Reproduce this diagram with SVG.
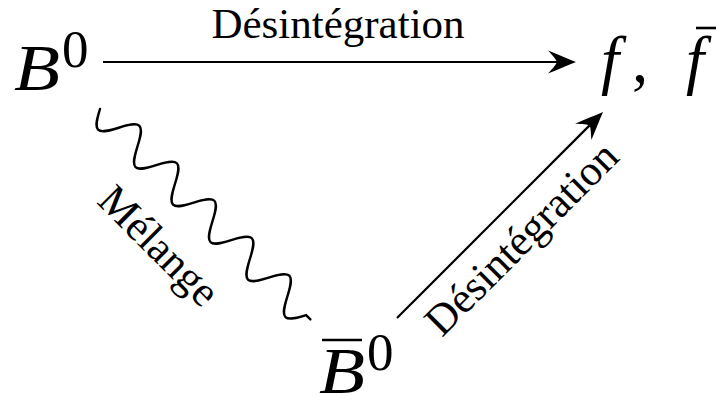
<svg xmlns="http://www.w3.org/2000/svg" width="717" height="401" viewBox="0 0 717 401">
  <style>
    .math { font-family: "Liberation Serif", "Times New Roman", serif; font-style: italic; font-size: 65px; fill: #000; }
    .sup { font-family: "Liberation Serif", "Times New Roman", serif; font-size: 53px; fill: #000; }
    .punct { font-family: "Liberation Serif", "Times New Roman", serif; font-size: 65px; fill: #000; }
    .lbl { font-family: "Liberation Serif", "Times New Roman", serif; font-size: 43px; fill: #000; text-anchor: middle; }
    .edge { fill: none; stroke: #000; stroke-width: 2.2; }
    .wave { fill: none; stroke: #000; stroke-width: 2.4; stroke-linecap: round; }
    .bar { stroke: #000; stroke-width: 2.6; }
  </style>
  <defs>
    <marker id="head" markerUnits="userSpaceOnUse" viewBox="-30 -13 32 26" markerWidth="32" markerHeight="26" refX="-19" refY="0" orient="auto">
      <path d="M0,0 C-9,-3.5 -19,-8 -28,-11.5 C-22.5,-5.5 -20,-2.5 -19,0 C-20,2.5 -22.5,5.5 -28,11.5 C-19,8 -9,3.5 0,0 Z" fill="#000"/>
    </marker>
  </defs>

  <g id="node-B0">
    <text class="math" x="14" y="90" textLength="46" lengthAdjust="spacingAndGlyphs">B</text>
    <text class="sup" x="62" y="67">0</text>
  </g>

  <g id="node-f">
    <text class="math" x="601" y="82">f</text>
    <text class="punct" x="632" y="82">,</text>
    <text class="math" x="686" y="82">f</text>
    <line class="bar" x1="696" y1="28" x2="716" y2="28"/>
  </g>

  <g id="node-B0bar">
    <line class="bar" x1="322" y1="340" x2="362" y2="340"/>
    <text class="math" x="319" y="393" textLength="46" lengthAdjust="spacingAndGlyphs">B</text>
    <text class="sup" x="367" y="370">0</text>
  </g>

  <g id="connectors">
    <line class="edge" x1="103" y1="62" x2="557" y2="62" marker-end="url(#head)"/>
    <text class="lbl" x="338" y="38">Désintégration</text>

    <line class="edge" x1="397" y1="318" x2="589.6" y2="125.4" marker-end="url(#head)"/>
    <g transform="translate(523,240) rotate(-45)">
      <text class="lbl" x="0" y="12">Désintégration</text>
    </g>

    <g transform="translate(100,109) rotate(45)">
      <path class="wave" d="M0,0
        c4.32,8.2 8.46,16 13.25,16 c4.79,0 8.93,-7.8 13.25,-16 c4.32,-8.2 8.46,-16 13.25,-16 c4.79,0 8.93,7.8 13.25,16
        c4.32,8.2 8.46,16 13.25,16 c4.79,0 8.93,-7.8 13.25,-16 c4.32,-8.2 8.46,-16 13.25,-16 c4.79,0 8.93,7.8 13.25,16
        c4.32,8.2 8.46,16 13.25,16 c4.79,0 8.93,-7.8 13.25,-16 c4.32,-8.2 8.46,-16 13.25,-16 c4.79,0 8.93,7.8 13.25,16
        c4.32,8.2 8.46,16 13.25,16 c4.79,0 8.93,-7.8 13.25,-16 c4.32,-8.2 8.46,-16 13.25,-16 c4.79,0 8.93,7.8 13.25,16
        c4.32,8.2 8.46,16 13.25,16 c4.79,0 8.93,-7.8 13.25,-16 c4.32,-8.2 8.46,-16 13.25,-16 c4.79,0 8.93,7.8 13.25,16
        c4.32,8.2 8.46,16 13.25,16 c4.79,0 8.93,-7.8 13.25,-16 l6,0"/>
    </g>
    <g transform="translate(157.5,247.3) rotate(45)">
      <text class="lbl" x="0" y="12">Mélange</text>
    </g>
  </g>
</svg>
